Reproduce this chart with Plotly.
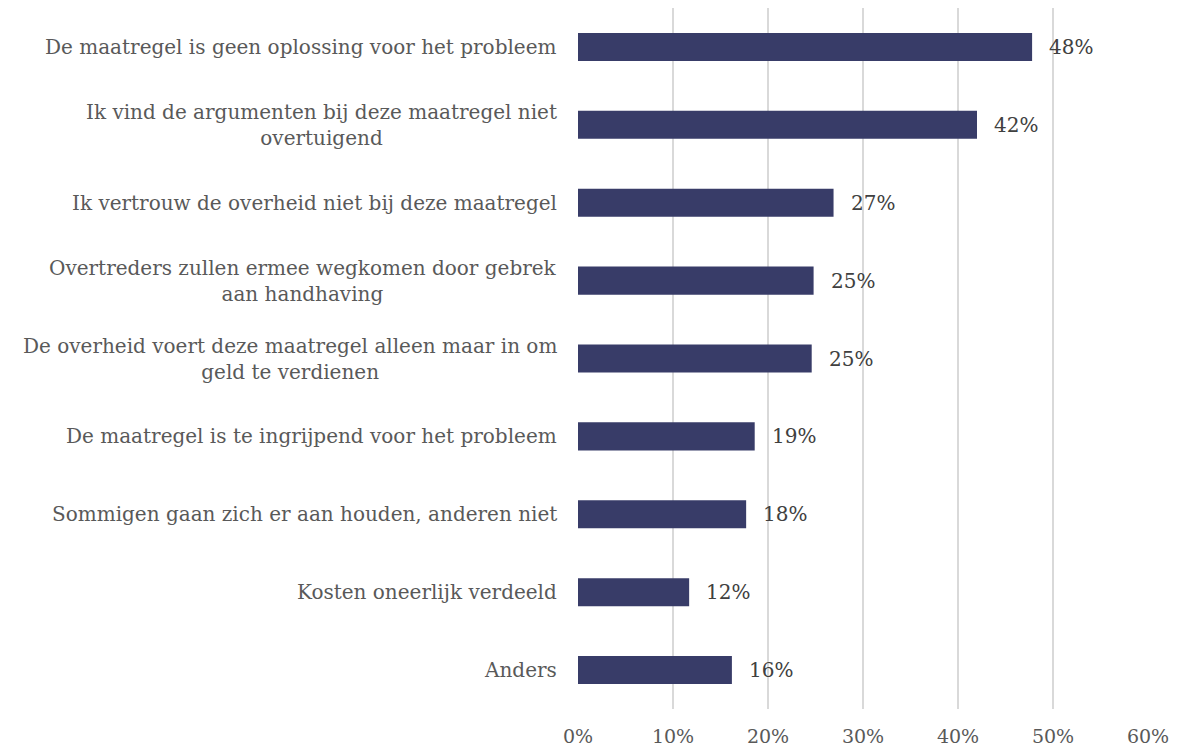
import plotly.graph_objects as go

categories = [
    "De maatregel is geen oplossing voor het probleem",
    "Ik vind de argumenten bij deze maatregel niet<br>overtuigend",
    "Ik vertrouw de overheid niet bij deze maatregel",
    "Overtreders zullen ermee wegkomen door gebrek<br>aan handhaving",
    "De overheid voert deze maatregel alleen maar in om<br>geld te verdienen",
    "De maatregel is te ingrijpend voor het probleem",
    "Sommigen gaan zich er aan houden, anderen niet",
    "Kosten oneerlijk verdeeld",
    "Anders",
]
values = [0.478, 0.420, 0.269, 0.248, 0.246, 0.186, 0.177, 0.117, 0.162]
value_labels = ["48%", "42%", "27%", "25%", "25%", "19%", "18%", "12%", "16%"]
x_ticks = [0, 0.1, 0.2, 0.3, 0.4, 0.5, 0.6]
x_tick_labels = ["0%", "10%", "20%", "30%", "40%", "50%", "60%"]

FONT = "DejaVu Serif"
TXT = "#595959"
BAR = "#383C68"

ids = list(range(len(categories)))

fig = go.Figure(go.Bar(
    x=values, y=ids, orientation="h",
    marker=dict(color=BAR, line=dict(width=0)),
    hoverinfo="skip",
))

annotations = []
for i, (cat, v, lab) in enumerate(zip(categories, values, value_labels)):
    annotations.append(dict(
        x=0, y=i, xref="paper", yref="y", text=cat, showarrow=False,
        xanchor="right", yanchor="middle", align="center", xshift=-19,
        font=dict(family=FONT, size=20, color=TXT),
    ))
    annotations.append(dict(
        x=v, y=i, xref="x", yref="y", text=lab, showarrow=False,
        xanchor="left", yanchor="middle", xshift=15,
        font=dict(family=FONT, size=20, color="#404040"),
    ))

fig.update_layout(
    width=1180, height=749,
    margin=dict(l=578, r=32, t=8, b=40, autoexpand=False),
    paper_bgcolor="white", plot_bgcolor="white",
    bargap=0.64,
    showlegend=False,
    annotations=annotations,
    xaxis=dict(
        range=[0, 0.6], tickvals=x_ticks, ticktext=x_tick_labels,
        showgrid=True, gridcolor="#D9D9D9", gridwidth=1.5,
        zeroline=False, showline=False, automargin=False,
        ticks="outside", ticklen=10, tickcolor="rgba(0,0,0,0)",
        tickfont=dict(family=FONT, size=19, color=TXT),
        fixedrange=True,
    ),
    yaxis=dict(
        tickvals=ids, showticklabels=False, automargin=False,
        showgrid=False, zeroline=False, showline=False,
        autorange=False, range=[len(ids) - 0.5, -0.5], fixedrange=True,
    ),
)

fig.write_html("out.html", config={"displayModeBar": False},
               post_script="document.body.style.margin='0';")
